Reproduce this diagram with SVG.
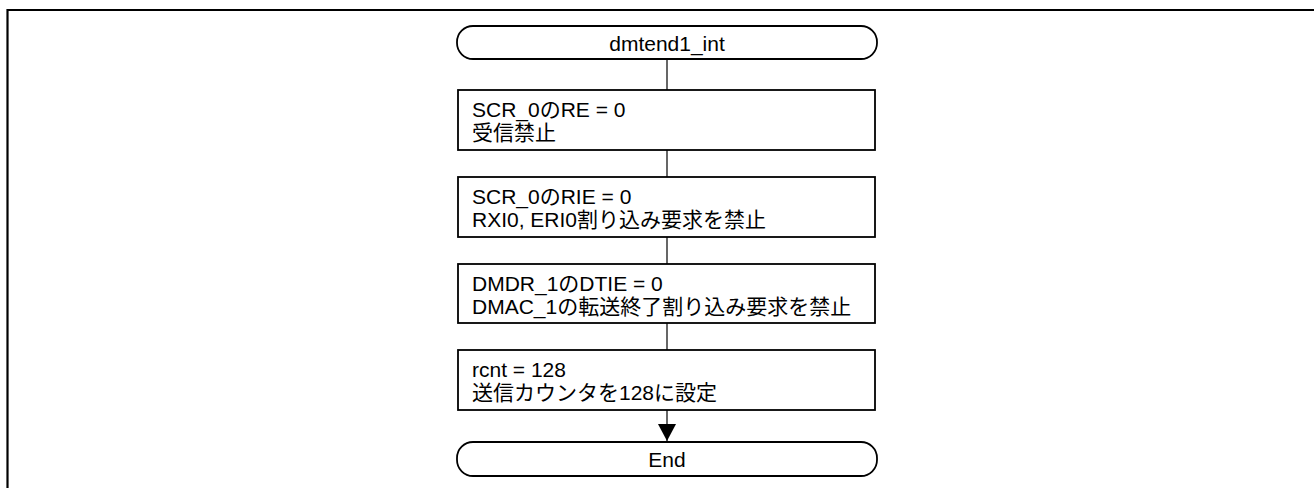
<svg xmlns="http://www.w3.org/2000/svg" width="1314" height="488" viewBox="0 0 1314 488">
<defs>
<style>
.frame{fill:none;stroke:#000;stroke-width:2.2}
.shape{fill:#fff;stroke:#000;stroke-width:1.8}
.conn{fill:none;stroke:#000;stroke-width:1.2}
.t{font-family:"Liberation Sans","Noto Sans CJK JP",sans-serif;font-size:21px;fill:#000}
.c{text-anchor:middle}
</style>
<marker id="arr" viewBox="0 0 17 18" refX="17" refY="9" markerWidth="17" markerHeight="18" markerUnits="userSpaceOnUse" orient="auto">
<path d="M0,0 L17,9 L0,18 Z" fill="#000"/>
</marker>
</defs>
<rect width="1314" height="488" fill="#fff"/>
<path class="frame" d="M7.5,488 V10 H1314"/>
<g id="connectors">
<line class="conn" x1="667" y1="59" x2="667" y2="90"/>
<line class="conn" x1="667" y1="150" x2="667" y2="177"/>
<line class="conn" x1="667" y1="237" x2="667" y2="264"/>
<line class="conn" x1="667" y1="323" x2="667" y2="350"/>
<line class="conn" x1="667" y1="410" x2="667" y2="441" marker-end="url(#arr)"/>
</g>
<g id="start">
<rect class="shape" x="457" y="26" width="420" height="33" rx="16" ry="16"/>
<text class="t c" x="667" y="51">dmtend1_int</text>
</g>
<g id="step1">
<rect class="shape" x="458" y="90" width="417" height="60"/>
<text class="t" x="472" y="117">SCR_0のRE = 0</text>
<text class="t" x="472" y="140">受信禁止</text>
</g>
<g id="step2">
<rect class="shape" x="458" y="177" width="417" height="60"/>
<text class="t" x="472" y="203.5">SCR_0のRIE = 0</text>
<text class="t" x="472" y="226.5">RXI0, ERI0割り込み要求を禁止</text>
</g>
<g id="step3">
<rect class="shape" x="458" y="264" width="417" height="59"/>
<text class="t" x="472" y="290.5">DMDR_1のDTIE = 0</text>
<text class="t" x="472" y="313.5">DMAC_1の転送終了割り込み要求を禁止</text>
</g>
<g id="step4">
<rect class="shape" x="458" y="350" width="417" height="60"/>
<text class="t" x="472" y="376.5">rcnt = 128</text>
<text class="t" x="472" y="399.5">送信カウンタを128に設定</text>
</g>
<g id="end">
<rect class="shape" x="457" y="442" width="420" height="34" rx="16" ry="16"/>
<text class="t c" x="667" y="467">End</text>
</g>
</svg>
